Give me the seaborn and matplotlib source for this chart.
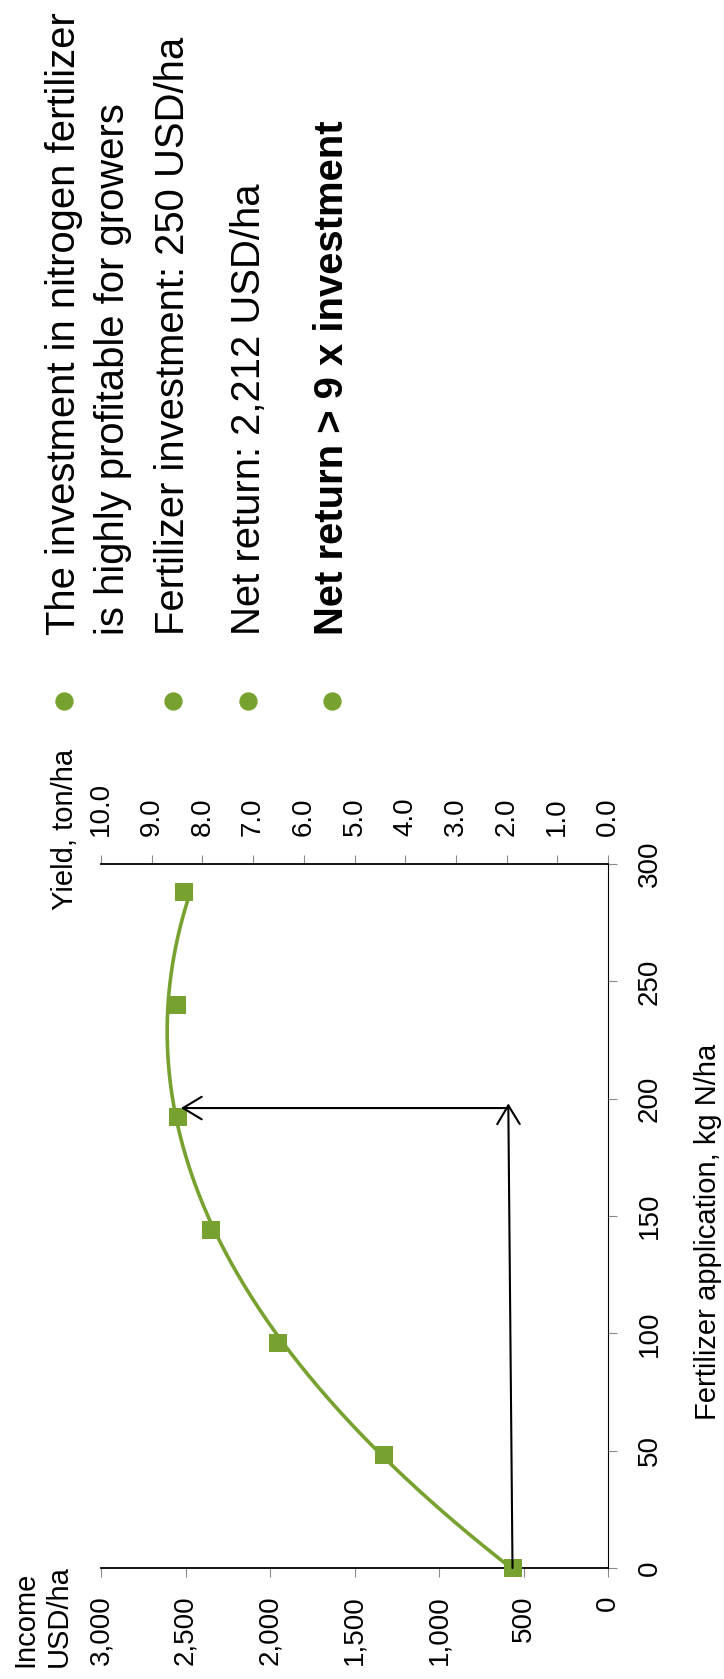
import numpy as np
import pandas as pd
import matplotlib
matplotlib.use("Agg")
import matplotlib.pyplot as plt
from matplotlib.lines import Line2D
import seaborn as sns

# Nitrogen rate trial: income per hectare at each fertilizer rate
n_rate = [0, 48, 96, 144, 192, 240, 288]            # kg N/ha
income = [565, 1327, 1955, 2348, 2544, 2550, 2506]  # USD/ha

income_ticks = [0, 500, 1000, 1500, 2000, 2500, 3000]
yield_ticks = [0, 1, 2, 3, 4, 5, 6, 7, 8, 9, 10]
n_ticks = [0, 50, 100, 150, 200, 250, 300]

# Economic optimum guide arrows
arrow_rate = 196
arrow_income_base = 565
arrow_income_corner = 590
arrow_income_tip = 2527

bullet_lines = [
    ("The investment in nitrogen fertilizer", "normal"),
    ("is highly profitable for growers", "normal"),
    ("Fertilizer investment: 250 USD/ha", "normal"),
    ("Net return: 2,212 USD/ha", "normal"),
    ("Net return > 9 x investment", "bold"),
]

GREEN = "#78A22F"
W, H = 724, 1679

sns.set_theme(style="white")
plt.rcParams["font.family"] = ["Liberation Sans", "DejaVu Sans"]
plt.rcParams["text.color"] = "black"

fig = plt.figure(figsize=(W / 100, H / 100), dpi=100)
fig.patch.set_facecolor("white")


def fx(px):
    return px / W


def fy(py):
    return 1 - py / H


def vtext(x, y, s, size, weight="normal"):
    fig.text(fx(x), fy(y), s, rotation=90, rotation_mode="anchor",
             ha="left", va="baseline", fontsize=size, fontweight=weight,
             color="black")


# Main axes: income runs along the horizontal (reversed), N rate vertical
ax = fig.add_axes([fx(101), fy(1568), (608 - 101) / W, (1568 - 864) / H])
ax.set_facecolor("none")

df = pd.DataFrame({"income": income, "n_rate": n_rate})
coef = np.polyfit(n_rate, income, 2)
n_fine = np.linspace(min(n_rate), max(n_rate), 300)
fit = pd.DataFrame({"income": np.polyval(coef, n_fine), "n_rate": n_fine})

sns.lineplot(data=fit, x="income", y="n_rate", orient="y", estimator=None,
             color=GREEN, linewidth=2.6, ax=ax, zorder=2)
sns.scatterplot(data=df, x="income", y="n_rate", marker="s", s=175,
                color=GREEN, linewidth=0, ax=ax, zorder=3, clip_on=False)

arrow_kw = dict(arrowstyle="->,head_length=0.45,head_width=0.27",
                color="black", lw=1.5, shrinkA=0, shrinkB=0,
                mutation_scale=30)
ax.annotate("", xy=(arrow_income_corner, arrow_rate + 2),
            xytext=(arrow_income_base, 0), arrowprops=arrow_kw,
            annotation_clip=False, zorder=4)
ax.annotate("", xy=(arrow_income_tip, arrow_rate),
            xytext=(arrow_income_corner, arrow_rate), arrowprops=arrow_kw,
            annotation_clip=False, zorder=4)

ax.set_xlim(3000, 0)
ax.set_ylim(0, 300)
ax.set_xlabel("")
ax.set_ylabel("")

for side in ("left", "top"):
    ax.spines[side].set_visible(False)
ax.spines["bottom"].set_color("black")
ax.spines["bottom"].set_linewidth(1.3)
ax.spines["right"].set_color("black")
ax.spines["right"].set_linewidth(0.8)

ax.set_xticks(income_ticks)
ax.set_xticklabels([f"{v:,}" for v in income_ticks], rotation=90,
                   ha="center", va="top")
ax.tick_params(axis="x", bottom=True, top=False, direction="out", length=6.5,
               width=0.8, color="#8a8a8a", labelsize=20, labelcolor="black",
               pad=13)

ax.yaxis.tick_right()
ax.set_yticks(n_ticks)
ax.set_yticklabels([str(v) for v in n_ticks], rotation=90, ha="left",
                   va="center")
ax.tick_params(axis="y", right=True, left=False, direction="out", length=6.5,
               width=0.8, color="#8a8a8a", labelsize=20, labelcolor="black",
               pad=14)

# Yield scale on the top edge
ax2 = ax.twiny()
ax2.set_xlim(10, 0)
for side in ("left", "right", "bottom"):
    ax2.spines[side].set_visible(False)
ax2.spines["top"].set_color("black")
ax2.spines["top"].set_linewidth(1.3)
ax2.set_xticks(yield_ticks)
ax2.set_xticklabels([f"{v:.1f}" for v in yield_ticks], rotation=90,
                    ha="center", va="bottom")
ax2.tick_params(axis="x", top=True, bottom=False, direction="out", length=6.5,
                width=0.8, color="#8a8a8a", labelsize=20, labelcolor="black",
                pad=14)

# Axis titles
vtext(33, 1667, "Income", 21)
vtext(67, 1667, "USD/ha", 21)
vtext(73, 910, "Yield, ton/ha", 21)
vtext(716, 1420, "Fertilizer application, kg N/ha", 21)

# Key messages
baselines = [75, 124, 184, 260, 343]
for (line, weight), bx in zip(bullet_lines, baselines):
    vtext(bx, 635, line, 28.8, weight)

for bx in [64, 173, 248, 332]:
    fig.add_artist(Line2D([fx(bx)], [fy(701)], marker="o", markersize=12.2,
                          color=GREEN, linestyle="none",
                          transform=fig.transFigure))

fig.savefig("out.png", dpi=100, facecolor="white")
